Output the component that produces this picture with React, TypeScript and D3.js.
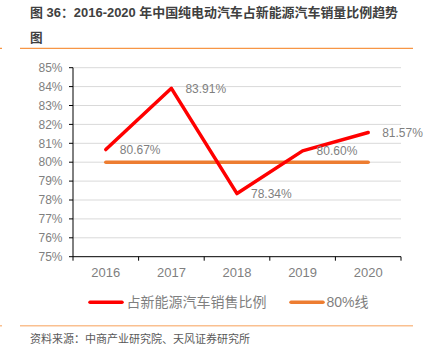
import React from "react";
import * as d3 from "d3";

const years = ["2016", "2017", "2018", "2019", "2020"];
const shareValues = [80.67, 83.91, 78.34, 80.6, 81.57];
const refValues = [80, 80, 80, 80, 80];
const yTicks = [75, 76, 77, 78, 79, 80, 81, 82, 83, 84, 85];
const seriesNames = ["占新能源汽车销售比例", "80%线"];
const titleLine1 = "图 36：2016-2020 年中国纯电动汽车占新能源汽车销量比例趋势";
const titleLine2 = "图";
const sourceText = "资料来源：中商产业研究院、天风证券研究所";

export default function App() {
  const W = 426, H = 355;
  const left = 73, right = 401, top = 67.7, bottom = 256.7;
  const x = d3.scaleBand<string>().domain(years).range([left, right]);
  const y = d3.scaleLinear().domain([75, 85]).range([bottom, top]);
  const cx = (d: string) => (x(d) as number) + x.bandwidth() / 2;
  const line = d3.line<number>().x((_, i) => cx(years[i])).y((v) => y(v));
  const font = "'Liberation Sans', Arial, 'Noto Sans CJK SC', sans-serif";
  const cjk = "'Noto Sans CJK SC', 'Liberation Sans', sans-serif";
  const boundaries = [...years.map((d) => x(d) as number), right];
  return (
    <svg width={W} height={H} style={{ position: "absolute", left: 0, top: 0, background: "#fff" }}>
      <text x={30} y={17} fontFamily={font} fontWeight="bold" fontSize={12.6} fill="#404040" textLength={368} lengthAdjust="spacingAndGlyphs">{titleLine1}</text>
      <text x={30} y={42} fontFamily={font} fontWeight="bold" fontSize={12.6} fill="#404040">{titleLine2}</text>
      <line x1={20} x2={413} y1={48.3} y2={48.3} stroke="#f79646" strokeWidth={1.2} />
      <line x1={0} x2={2} y1={48.3} y2={48.3} stroke="#f79646" strokeWidth={1.2} />

      {yTicks.map((t) => (
        <g key={t}>
          {t !== 75 && <line x1={left} x2={right} y1={y(t)} y2={y(t)} stroke="#d9d9d9" strokeWidth={1} />}
          <line x1={left - 4} x2={left} y1={y(t)} y2={y(t)} stroke="#000" strokeWidth={1} />
          <text x={62.5} y={y(t)} dy="0.35em" textAnchor="end" fontFamily={font} fontSize={12} fill="#7f7f7f">{t}%</text>
        </g>
      ))}
      <line x1={left} x2={left} y1={top} y2={bottom} stroke="#000" strokeWidth={1} />
      <line x1={left} x2={right} y1={bottom} y2={bottom} stroke="#000" strokeWidth={1} />
      {boundaries.map((b, i) => (
        <line key={i} x1={b} x2={b} y1={bottom} y2={bottom + 4} stroke="#000" strokeWidth={1} />
      ))}
      {years.map((d) => (
        <text key={d} x={cx(d)} y={272.3} dy="0.35em" textAnchor="middle" fontFamily={font} fontSize={13} fill="#7f7f7f">{d}</text>
      ))}

      <path d={line(refValues) || ""} fill="none" stroke="#ed7d31" strokeWidth={3.5} strokeLinecap="round" />
      <path d={line(shareValues) || ""} fill="none" stroke="#ff0000" strokeWidth={3.5} strokeLinecap="round" strokeLinejoin="round" />
      {shareValues.map((v, i) => (
        <text key={i} x={cx(years[i]) + 14} y={y(v)} dy="0.35em" fontFamily={font} fontSize={12} fill="#7f7f7f">
          {v.toFixed(2)}%
        </text>
      ))}

      <line x1={90} x2={122} y1={302.3} y2={302.3} stroke="#ff0000" strokeWidth={3.5} strokeLinecap="round" />
      <text x={126.5} y={302.3} dy="0.35em" fontFamily={cjk} fontSize={14} fill="#7f7f7f">{seriesNames[0]}</text>
      <line x1={291} x2={323} y1={302.3} y2={302.3} stroke="#ed7d31" strokeWidth={3.5} strokeLinecap="round" />
      <text x={326.5} y={302.3} dy="0.35em" fontFamily={font} fontSize={14} fill="#7f7f7f">{seriesNames[1]}</text>

      <line x1={20} x2={413} y1={325.7} y2={325.7} stroke="#fac090" strokeWidth={1.5} />
      <line x1={0} x2={2} y1={325.7} y2={325.7} stroke="#fac090" strokeWidth={1.5} />
      <text x={30} y={339} dy="0.35em" fontFamily={cjk} fontSize={11} fill="#595959">{sourceText}</text>
    </svg>
  );
}
